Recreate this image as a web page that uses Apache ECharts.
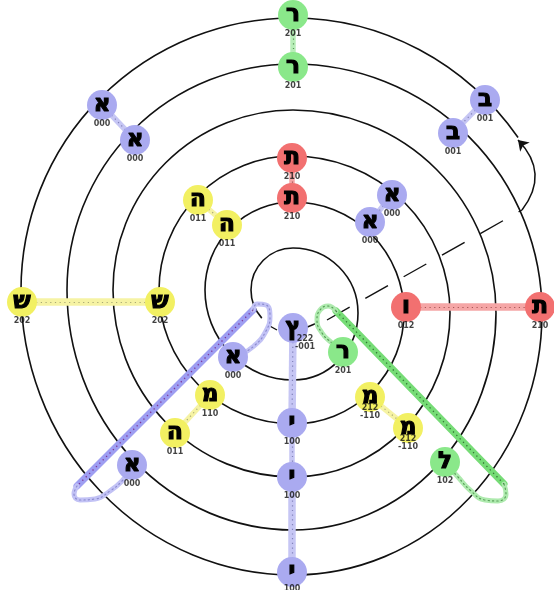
<!DOCTYPE html>
<html><head><meta charset="utf-8">
<script src="https://cdn.jsdelivr.net/npm/echarts@6/dist/echarts.min.js"></script>
<style>html,body{margin:0;padding:0;background:#fff;}#c{width:554px;height:590px;}</style>
</head><body><div id="c"></div>
<script>
// ---- data (diagram units: x to the right, y upward, origin at the spiral centre) ----
const letters = ['ר','ר','א','א','ב','ב','ה','ה','ת','ת','א','א','ש','ש','ו','ת','ץ','ר','א','מ','ה','א','מ','מ','ל','י','י','י'];
const codes   = ['201','201','000','000','001','001','011','011','210','210','000','000','202','202','012','210','222\n-001','201','000','110','011','000','212\n-110','212\n-110','102','100','100','100'];
const nodeX   = [0,0,-191,-158,192,160,-95,-66,-1,-1,99,77,-271,-133,113,247,0,50,-60,-83,-118,-161,77,115,152,-1,-1,-1];
const nodeY   = [275,223,185,150,190,157,90,65,132,92,95,68,-12,-12,-17,-17,-38,-62,-67,-105,-143,-175,-107,-138,-172,-133,-187,-282];
const family  = ['g','g','b','b','b','b','y','y','r','r','b','b','y','y','r','r','b','g','b','y','y','b','y','y','g','b','b','b'];
const links   = [[0,1],[2,3],[4,5],[6,7],[8,9],[10,11],[12,13],[14,15],[19,20],[22,23],[16,25],[25,26],[26,27]];

// spiral pieces: [centreX, centreY, radiusX, radiusY, fromDeg, toDeg]
const spiralArcs = [
  [0,0,42,42,90,180],[0,0,42,42,180,222],
  [0,-23,65,65,0,90],[0,-23,65,67,-90,0],
  [0,0,88,88,90,180],[0,0,88,90,180,270],
  [0,-23,111,111,0,90],[0,-23,111,111,-90,0],
  [0,0,134,134,90,180],[0,0,134,134,180,270],
  [0,-23,157,157,0,90],[0,-23,157,164,-90,0],
  [0,0,180,180,90,180],[0,0,180,187,180,270],
  [0,-23,203,203,0,90],[0,-23,203,217,-90,0],
  [0,0,226,226,90,180],[0,0,226,240,180,270],
  [0,-23,249,249,0,90],[0,-23,249,262,-90,0],
  [0,0,272,272,90,180],[0,0,272,285,180,270],
  [0,-23,280,295,36.5,90]
];
const seamLine  = [[34,-30],[229,80]];
const seamTicks = [[[12,-38],[24,-33]],[[-25,-35],[-16,-40]]];
const arrowHook = [[229,80],[225,150]];

const blueLoopLine   = [[-40,-20],[-216,-196]];
const blueCapTop     = [[-40,-20],[-36,-14],[-27,-15],[-23,-26],[-27,-41],[-39,-56],[-52,-64]];
const blueCapBottom  = [[-216,-196],[-219,-204],[-213,-210],[-198,-209],[-183,-201],[-171,-191],[-163,-180]];
const greenLoopLine  = [[43,-21],[211,-194]];
const greenCapTop    = [[43,-21],[35,-16],[27,-20],[24,-30],[29,-43],[39,-53],[48,-60]];
const greenCapBottom = [[211,-194],[213,-204],[205,-211],[192,-210],[177,-200],[165,-187],[155,-176]];

// ---- styles ----
const fill = {b:'#aaaaf0', g:'#8ae88a', r:'#f27070', y:'#f2f062'};
const pale = {b:'#c6c6f4', g:'#b8eeb8', r:'#f5a6a6', y:'#f6f3a4'};
const dots = {b:'#7a7ab4', g:'#4c8c4c', r:'#a04c4c', y:'#a0a070'};

const chart = echarts.init(document.getElementById('c'), null, {renderer:'canvas'});

const linkData = links.map(([a,b]) => {
  const len = Math.hypot(nodeX[a]-nodeX[b], nodeY[a]-nodeY[b]);
  return {coords:[[nodeX[a],nodeY[a]],[nodeX[b],nodeY[b]]],
          lineStyle:{color:pale[family[a]], width: len > 60 ? 7.5 : 5.5}};
});
const linkDots = links.map(([a,b]) => ({coords:[[nodeX[a],nodeY[a]],[nodeX[b],nodeY[b]]],
          lineStyle:{color:dots[family[a]]}}));

function capSeries(pts, color, dotColor) {
  return [
    {type:'line', data:pts, smooth:0.5, symbol:'none', z:4, silent:true,
     lineStyle:{color:color, width:5, cap:'round'}},
    {type:'line', data:pts, smooth:0.5, symbol:'none', z:5, silent:true,
     lineStyle:{color:dotColor, width:1.2, type:[1.2,3.2], cap:'round'}}
  ];
}

const option = {
  animation:false,
  backgroundColor:'#ffffff',
  grid:{left:0,right:0,top:0,bottom:0},
  xAxis:{type:'value', min:-293, max:261, show:false},
  yAxis:{type:'value', min:-300, max:290, show:false},
  series:[
    {type:'custom', data:spiralArcs, z:1, silent:true,
     renderItem:function(params, api){
       const c = api.coord([api.value(0), api.value(1)]);
       const s = api.size([api.value(2), api.value(3)]);
       const a0 = api.value(4)*Math.PI/180, a1 = api.value(5)*Math.PI/180;
       return {type:'arc', x:c[0], y:c[1], scaleX:1, scaleY:s[1]/s[0],
               shape:{cx:0, cy:0, r:s[0], startAngle:-a1, endAngle:-a0, clockwise:true},
               style:{stroke:'#111', lineWidth:1.6, fill:null, strokeNoScale:true}};
     }},
    {type:'lines', coordinateSystem:'cartesian2d', z:2, silent:true,
     data:[{coords:seamLine}],
     lineStyle:{color:'#111', width:1.4, type:[26,18], opacity:1}},
    {type:'lines', coordinateSystem:'cartesian2d', z:2, silent:true,
     data:seamTicks.map(t=>({coords:t})),
     lineStyle:{color:'#111', width:1.4, opacity:1}},
    {type:'lines', coordinateSystem:'cartesian2d', z:2, silent:true,
     data:[{coords:arrowHook}], symbol:['none','arrow'], symbolSize:10,
     lineStyle:{color:'#111', width:1.5, curveness:-0.43, opacity:1}},
    {type:'lines', coordinateSystem:'cartesian2d', z:3, silent:true,
     data:linkData, lineStyle:{opacity:1, cap:'butt'}},
    {type:'lines', coordinateSystem:'cartesian2d', z:4, silent:true,
     data:linkDots, lineStyle:{width:1.2, type:[1.2,3.5], opacity:0.9}},
    ...capSeries(blueCapTop, '#c2c2f5', '#8c8cd0'),
    ...capSeries(blueCapBottom, '#c2c2f5', '#8c8cd0'),
    ...capSeries(greenCapTop, '#aeeaae', '#5aa05a'),
    ...capSeries(greenCapBottom, '#aeeaae', '#5aa05a'),
    {type:'lines', coordinateSystem:'cartesian2d', z:4, silent:true,
     data:[{coords:blueLoopLine, lineStyle:{color:'#9e9ef2'}},{coords:greenLoopLine, lineStyle:{color:'#76dc76'}}],
     lineStyle:{width:7, opacity:1, cap:'round'}},
    {type:'lines', coordinateSystem:'cartesian2d', z:5, silent:true,
     data:[{coords:blueLoopLine, lineStyle:{color:'#7a2a8a'}},{coords:greenLoopLine, lineStyle:{color:'#2a6a2a'}}],
     lineStyle:{width:1.3, type:[1.3,3.5], opacity:0.9}},
    {type:'scatter', z:10, silent:true, symbol:'circle', symbolSize:30,
     data:nodeX.map((x,i)=>({value:[x,nodeY[i]], itemStyle:{color:fill[family[i]], opacity:1}})),
     label:{show:true, position:'inside', offset:[0,0], color:'#000',
            fontSize:23, fontWeight:'bold', fontFamily:"'DejaVu Sans',sans-serif",
            textBorderColor:'#000', textBorderWidth:1.2,
            formatter:p=>letters[p.dataIndex]}},
    {type:'scatter', z:11, silent:true, symbolSize:1, itemStyle:{color:'rgba(0,0,0,0)'},
     data:nodeX.map((x,i)=>{
       const two = codes[i].indexOf('\n') >= 0;
       const dy = two ? 15 : (nodeY[i] < -270 ? 17 : 19);
       return {value:[x,nodeY[i]], label:{offset:[two && letters[i]==='ץ' ? 12 : 0, dy]}};
     }),
     label:{show:true, position:'inside', color:'#111', fontSize:8, lineHeight:8.5,
            fontWeight:'bold', fontFamily:"'DejaVu Sans',sans-serif",
            formatter:p=>codes[p.dataIndex]}}
  ]
};
chart.setOption(option);
</script></body></html>
